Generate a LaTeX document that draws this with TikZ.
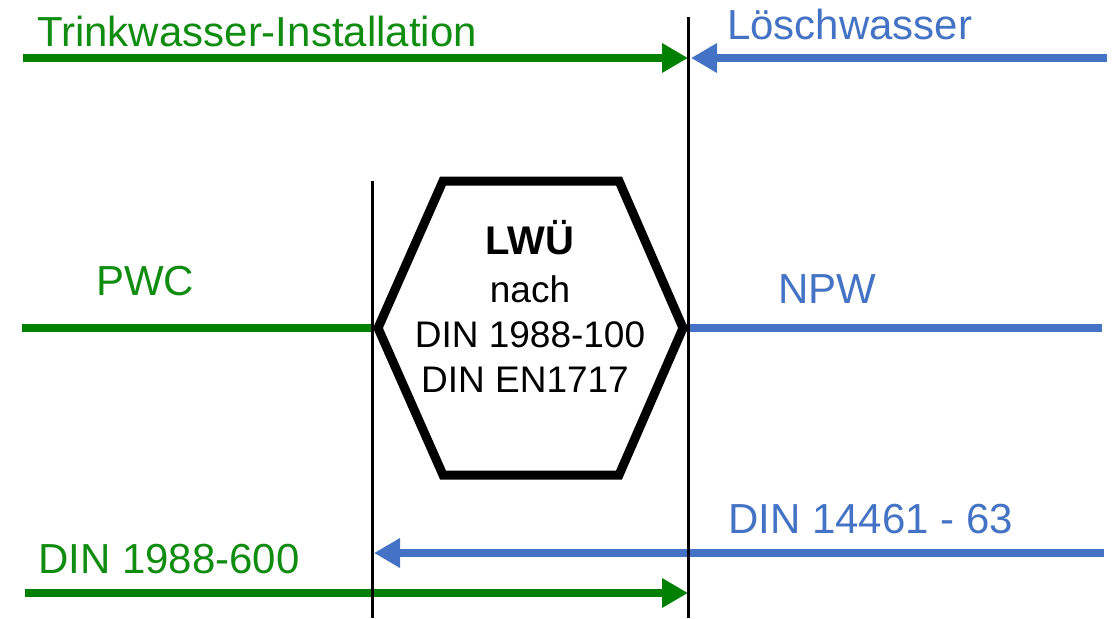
\documentclass[tikz,border=0pt]{standalone}
\usepackage{fontspec}
\setmainfont{Liberation Sans}
\usetikzlibrary{arrows.meta}
\definecolor{pgreen}{RGB}{0,128,0}
\definecolor{tgreen}{RGB}{16,140,16}
\definecolor{pblue}{RGB}{68,114,196}
\begin{document}
\begin{tikzpicture}[x=1pt,y=-1pt,
  pipe/.style={line width=8pt},
  arr/.style={line width=8pt,-{Triangle[length=26pt,width=28pt]}},
  wall/.style={line width=3pt,black},
  hexa/.style={line width=9pt,black,line join=miter},
  lbl/.style={inner sep=0pt,anchor=base west,font=\fontsize{42}{50}\selectfont},
  hextext/.style={inner sep=0pt,anchor=base,font=\fontsize{37}{45}\selectfont}]
\useasboundingbox (0,0) rectangle (1115,618);

% walls
\coordinate (wLtop) at (372,181);
\coordinate (wLbot) at (372,618);
\coordinate (wRtop) at (688,17);
\coordinate (wRbot) at (688,618);

% top arrows
\coordinate (tgS) at (23,58);
\coordinate (tgE) at (688,58);
\coordinate (tbS) at (1107,58);
\coordinate (tbE) at (691,58);
\draw[arr,pgreen] (tgS) -- (tgE);
\draw[arr,pblue] (tbS) -- (tbE);

% middle pipes
\coordinate (mgS) at (22,328);
\coordinate (mgE) at (374,328);
\coordinate (mbS) at (686,328);
\coordinate (mbE) at (1102,328);
\draw[pipe,pgreen] (mgS) -- (mgE);
\draw[pipe,pblue] (mbS) -- (mbE);

% bottom arrows
\coordinate (bbS) at (1104,553);
\coordinate (bbE) at (374,553);
\coordinate (bgS) at (25,593);
\coordinate (bgE) at (688,593);
\draw[arr,pblue] (bbS) -- (bbE);
\draw[arr,pgreen] (bgS) -- (bgE);

\draw[wall] (wLtop) -- (wLbot);
\draw[wall] (wRtop) -- (wRbot);

% hexagon
\coordinate (h1) at (378,328);
\coordinate (h2) at (443,181);
\coordinate (h3) at (619,181);
\coordinate (h4) at (683,328);
\coordinate (h5) at (619,475);
\coordinate (h6) at (443,475);
\draw[hexa] (h1) -- (h2) -- (h3) -- (h4) -- (h5) -- (h6) -- cycle;

\node[hextext,font=\fontsize{40}{48}\selectfont\bfseries] (lwu) at (530,254) {LWÜ};
\node[hextext] (nach) at (530,302) {nach};
\node[hextext] (din1) at (530,347) {DIN 1988-100};
\node[hextext] (din2) at (525,392) {DIN EN1717};

% labels
\node[lbl,text=tgreen] (trink) at (37,46) {Trinkwasser-Installation};
\node[lbl,text=pblue] (loesch) at (727,40) {Löschwasser};
\node[lbl,text=tgreen] (pwc) at (96,295) {PWC};
\node[lbl,text=pblue] (npw) at (778,303) {NPW};
\node[lbl,text=pblue] (din14461) at (728,533) {DIN 14461 - 63};
\node[lbl,text=tgreen] (din600) at (38,573) {DIN 1988-600};
\end{tikzpicture}
\end{document}
